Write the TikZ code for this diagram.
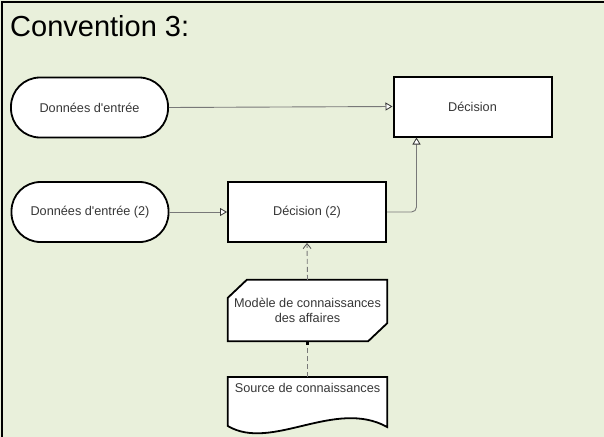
\documentclass[tikz,border=0pt]{standalone}
\usepackage{fontspec}
\setmainfont{Liberation Sans}
\usetikzlibrary{arrows.meta,calc}
\definecolor{panelbg}{RGB}{233,240,219}
\definecolor{linkgray}{RGB}{120,120,120}
\definecolor{labelgray}{RGB}{55,55,55}
\begin{document}
\begin{tikzpicture}[x=1pt,y=-1pt,
  txt/.style={font=\fontsize{12.7}{15}\selectfont, text=labelgray},
  inputdata/.style={txt, draw=black, line width=1.8pt, fill=white, rounded corners=29pt,
    minimum width=157pt, minimum height=60pt, inner sep=0pt},
  decisionbox/.style={txt, draw=black, line width=2pt, fill=white,
    minimum width=158pt, minimum height=60pt, inner sep=0pt},
  plainbox/.style={txt, inner sep=0pt, minimum width=159pt, minimum height=61pt, align=center},
  shapeline/.style={draw=black, line width=1.8pt, fill=white, line join=miter},
  conn/.style={draw=linkgray, line width=0.9pt, -{Triangle[length=7pt,width=8pt,fill=white,color=black!80,line width=0.8pt]}},
  dconn/.style={draw=linkgray, line width=0.9pt, dash pattern=on 5pt off 3pt}
]
% panel
\useasboundingbox (0,0) rectangle (604,436);
\fill[panelbg] (-6,-6) rectangle (612,444);
\draw[black, line width=2pt] (1.5,444) -- (1.5,2) -- (612,2);

% title
\node[anchor=base west, inner sep=0pt, font=\fontsize{29}{34}\selectfont] (title) at (10,37) {Convention 3:};

% decision and input data nodes
\node[inputdata] (in1) at (89.5,107.5) {Données d\textquotesingle entrée};
\node[decisionbox] (dec1) at (472.5,106.5) {Décision};
\node[inputdata] (in2) at (90,212) {Données d\textquotesingle entrée (2)};
\node[decisionbox] (dec2) at (307,212) {Décision (2)};

% business knowledge model (box with two cut corners)
\node[plainbox] (bkm) at (307.5,310.5) {};
\path[shapeline]
  ($(bkm.north west)+(19,0)$) -- (bkm.north east) -- ($(bkm.south east)+(0,-18)$)
  -- ($(bkm.south east)+(-19,0)$) -- (bkm.south west) -- ($(bkm.north west)+(0,18)$) -- cycle;
\node[txt, align=center, inner sep=0pt] (bkmtext) at (307.5,310.5) {Modèle de connaissances\\des affaires};

% knowledge source (document shape with wavy bottom)
\node[txt, anchor=north, minimum width=159pt, inner xsep=0pt, inner ysep=6pt] (ks) at (307.5,377) {\strut};
\path[shapeline]
  (ks.north west) -- (ks.north east) -- ($(ks.north east)+(0,50)$)
  .. controls ($(ks.north west)+(107,21)$) and ($(ks.north west)+(44,75)$) ..
  ($(ks.north west)+(0,49)$) -- cycle;
\node[txt, anchor=north, inner sep=0pt] (kstext) at (307.5,383) {Source de connaissances};

% information requirements
\draw[conn] (in1.east) -- (dec1.west);
\draw[conn] (in2.east) -- (dec2.west);
\coordinate (dec1in) at ($(dec1.south west)+(24,0)$);
\draw[conn, rounded corners=5pt] (dec2.east) -| (dec1in);

% knowledge requirement
\draw[dconn, -{Straight Barb[length=5pt,width=8pt,color=black!70,line width=0.8pt]}] (bkm.north) -- (dec2.south);

% authority requirement
\draw[dconn, -{Square[length=3.5pt,width=3.5pt,color=black]}] (ks.north) -- (bkm.south);
\end{tikzpicture}
\end{document}
